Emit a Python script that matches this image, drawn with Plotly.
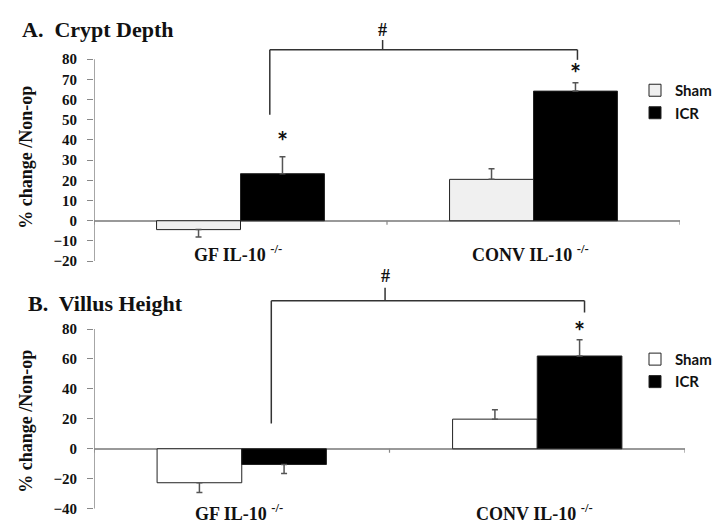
import plotly.graph_objects as go

categories = ["GF IL-10 <sup>-/-</sup>", "CONV IL-10 <sup>-/-</sup>"]
series_names = ["Sham", "ICR"]

crypt_sham = [-4.4, 20.5]
crypt_sham_err = [3.7, 5.2]
crypt_icr = [23.3, 64.2]
crypt_icr_err = [8.4, 4.1]

villus_sham = [-22.7, 19.8]
villus_sham_err = [6.6, 6.3]
villus_icr = [-10.5, 62.0]
villus_icr_err = [6.0, 10.9]

crypt_ticks = [-20, -10, 0, 10, 20, 30, 40, 50, 60, 70, 80]
villus_ticks = [-40, -20, 0, 20, 40, 60, 80]

SERIF = "Liberation Serif"
SANS = "Lato"
xpos = [0, 1]

def plus(v, e):
    return [ee if vv >= 0 else 0 for vv, ee in zip(v, e)]

def minus(v, e):
    return [ee if vv < 0 else 0 for vv, ee in zip(v, e)]

fig = go.Figure()

def add_bars(vals, errs, name, color, xa, ya, legend, lineclr="#222"):
    fig.add_trace(go.Bar(
        x=xpos, y=vals, name=name, xaxis=xa, yaxis=ya, legend=legend,
        marker=dict(color=color, line=dict(color=lineclr, width=1)),
        error_y=dict(type="data", symmetric=False, array=plus(vals, errs),
                     arrayminus=minus(vals, errs), color="#555", thickness=1.5, width=3),
    ))

add_bars(crypt_sham, crypt_sham_err, series_names[0], "#f0f0f0", "x", "y", "legend")
add_bars(crypt_icr, crypt_icr_err, series_names[1], "#000000", "x", "y", "legend")
add_bars(villus_sham, villus_sham_err, series_names[0], "#ffffff", "x2", "y2", "legend2")
add_bars(villus_icr, villus_icr_err, series_names[1], "#000000", "x2", "y2", "legend2")

W, H = 726, 530
ydomA = [1 - 257 / H, 1 - 31.5 / H]
ydomB = [1 - 508.3 / H, 1 - 280.4 / H]

tickfont = dict(family=SERIF, size=15, color="#111", weight="bold")
legfont = dict(family=SANS, size=15, color="#111", weight="bold")

fig.update_layout(
    width=W, height=H, margin=dict(l=0, r=0, t=0, b=0),
    paper_bgcolor="white", plot_bgcolor="white",
    barmode="group", bargap=0.427, bargroupgap=0,
    xaxis=dict(domain=[86 / W, 672 / W], range=[-0.5, 1.5], showticklabels=False,
               showgrid=False, zeroline=False, showline=False, ticks=""),
    yaxis=dict(domain=ydomA, range=[-20, 90], tickvals=crypt_ticks, ticks="outside",
               ticklen=6, tickcolor="#888", tickfont=tickfont, showgrid=False,
               ticklabelstandoff=7,
               zeroline=True, zerolinecolor="#999", zerolinewidth=1.5, showline=False),
    xaxis2=dict(domain=[86 / W, 677 / W], range=[-0.5, 1.5], showticklabels=False,
                showgrid=False, zeroline=False, showline=False, ticks="", anchor="y2"),
    yaxis2=dict(domain=ydomB, range=[-40, 110], tickvals=villus_ticks, ticks="outside",
                ticklen=6, tickcolor="#888", tickfont=tickfont, showgrid=False,
                ticklabelstandoff=7,
                zeroline=True, zerolinecolor="#999", zerolinewidth=1.5, showline=False,
                anchor="x2"),
    legend=dict(x=627 / W, y=1 - 67 / H, xanchor="left", yanchor="top",
                font=legfont, bgcolor="rgba(0,0,0,0)", tracegroupgap=0, itemwidth=30),
    legend2=dict(x=627 / W, y=1 - 340 / H, xanchor="left", yanchor="top",
                 font=legfont, bgcolor="rgba(0,0,0,0)", tracegroupgap=0, itemwidth=30),
    showlegend=True,
)

shapes = []
# y-axis lines
shapes.append(dict(type="line", xref="x", yref="y", x0=-0.5, x1=-0.5,
                   y0=crypt_ticks[0], y1=crypt_ticks[-1], line=dict(color="#888", width=1.5)))
shapes.append(dict(type="line", xref="x2", yref="y2", x0=-0.5, x1=-0.5,
                   y0=villus_ticks[0], y1=villus_ticks[-1], line=dict(color="#888", width=1.5)))
# x boundary ticks
for xb in [-0.5, 0.5, 1.5]:
    shapes.append(dict(type="line", xref="x", yref="y", x0=xb, x1=xb, y0=0, y1=-2,
                       line=dict(color="#888", width=1.2)))
    shapes.append(dict(type="line", xref="x2", yref="y2", x0=xb, x1=xb, y0=0, y1=-2.7,
                       line=dict(color="#888", width=1.2)))

def bracket(xa, ya, xl, yl, xr, yr, ytop, xt, ytick):
    c = dict(color="#333", width=1.5)
    return [
        dict(type="line", xref=xa, yref=ya, x0=xl, x1=xl, y0=yl, y1=ytop, line=c),
        dict(type="line", xref=xa, yref=ya, x0=xl, x1=xr, y0=ytop, y1=ytop, line=c),
        dict(type="line", xref=xa, yref=ya, x0=xr, x1=xr, y0=yr, y1=ytop, line=c),
        dict(type="line", xref=xa, yref=ya, x0=xt, x1=xt, y0=ytop, y1=ytick, line=c),
    ]

shapes += bracket("x", "y", 0.1, 52.5, 1.15, 79.7, 84.7, 0.485, 89.5)
shapes += bracket("x2", "y2", 0.1, 16.9, 1.16, 91.0, 98.9, 0.485, 107.6)
fig.update_layout(shapes=shapes)

ann = []
bold_serif = lambda s: dict(family=SERIF, size=s, color="#111", weight="bold")
# titles
ann.append(dict(text="A.  Crypt Depth", xref="paper", yref="paper", x=12 / W, y=1 - 22 / H,
                xanchor="left", yanchor="middle", showarrow=False, font=bold_serif(22)))
ann.append(dict(text="B.  Villus Height", xref="paper", yref="paper", x=18 / W, y=1 - 300 / H,
                xanchor="left", yanchor="middle", showarrow=False, font=bold_serif(22)))
# y titles
ann.append(dict(text="% change /Non-op", xref="paper", yref="paper", x=18 / W, y=1 - 152 / H,
                xanchor="center", yanchor="middle",
                textangle=-90, showarrow=False, font=bold_serif(18)))
ann.append(dict(text="% change /Non-op", xref="paper", yref="paper", x=18 / W, y=1 - 420 / H,
                xanchor="center", yanchor="middle",
                textangle=-90, showarrow=False, font=bold_serif(18)))
# category labels
for i, c in enumerate(categories):
    ann.append(dict(text=c, xref="x", yref="paper", x=xpos[i] - 0.01, y=1 - 249 / H,
                    showarrow=False, font=bold_serif(18), yanchor="middle"))
    ann.append(dict(text=c, xref="x2", yref="paper", x=xpos[i] - 0.01, y=1 - 512 / H,
                    showarrow=False, font=bold_serif(18), yanchor="middle"))
# stars
star_font = dict(family=SANS, size=26, color="#111", weight="bold")
for (xa, ya, xv, yv) in [("x", "y", 0.143, 39.5), ("x", "y", 1.143, 73), ("x2", "y2", 1.143, 79)]:
    ann.append(dict(text="*", xref=xa, yref=ya, x=xv, y=yv, showarrow=False, font=star_font))
# hashes
ann.append(dict(text="#", xref="x", yref="paper", x=0.485, y=1 - 22 / H, yanchor="middle",
                showarrow=False, font=bold_serif(18)))
ann.append(dict(text="#", xref="x2", yref="paper", x=0.485, y=1 - 272 / H, yanchor="middle",
                showarrow=False, font=bold_serif(18)))
fig.update_layout(annotations=ann)

fig.write_html("out.html")
